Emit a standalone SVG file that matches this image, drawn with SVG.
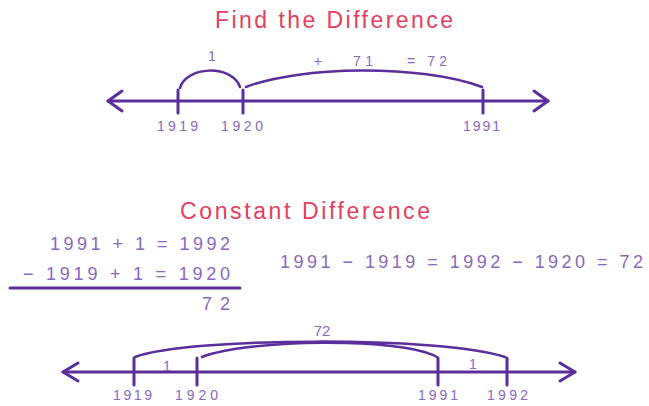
<svg xmlns="http://www.w3.org/2000/svg" width="649" height="406" viewBox="0 0 649 406">
<style>
.title{font-family:"Liberation Sans",Arial,sans-serif;font-size:23px;fill:#e2405e;}
.num{font-family:"Liberation Sans",Arial,sans-serif;fill:#8a67c0;}
.ln{stroke:#5b2e9c;stroke-width:3;fill:none;stroke-linecap:round;stroke-linejoin:round;}
.arc{stroke:#5b2e9c;stroke-width:2.5;fill:none;stroke-linecap:round;}
</style>
<rect width="649" height="406" fill="#ffffff"/>
<g id="title-top"><text class="title" x="215" y="28" textLength="238" lengthAdjust="spacing">Find the Difference</text></g>
<g id="title-bottom"><text class="title" x="180" y="219" textLength="250" lengthAdjust="spacing">Constant Difference</text></g>

<g id="connectors">
  <!-- top number line -->
  <path class="ln" d="M108 101 H548"/>
  <path class="ln" d="M122 91 L108 101 L122 111"/>
  <path class="ln" d="M534 91 L548 101 L534 111"/>
  <path class="ln" d="M178 90 V113 M243 90 V113 M483 90 V113"/>
  <path class="arc" d="M180 88 C186 66, 232 64, 240 87"/>
  <path class="arc" d="M246 87 C300 66, 420 64, 482 87"/>
  <!-- bottom number line -->
  <path class="ln" d="M63 372 H575"/>
  <path class="ln" d="M78 363 L63 372 L78 381"/>
  <path class="ln" d="M560 363 L575 372 L560 381"/>
  <path class="ln" d="M134 358 V385 M197 358 V385 M438 358 V385 M507 358 V385"/>
  <path class="arc" d="M135 357 C190 337, 440 336, 505 357"/>
  <path class="arc" d="M202 357 C250 339, 400 337, 437 357"/>
  <!-- subtraction bar -->
  <path class="ln" d="M10 288 H240" stroke-width="2.5"/>
</g>

<g id="top-labels" class="num" font-size="14">
  <text x="157" y="131" textLength="41" lengthAdjust="spacing">1919</text>
  <text x="221" y="131" textLength="42" lengthAdjust="spacing">1920</text>
  <text x="463" y="131" textLength="37" lengthAdjust="spacing">1991</text>
  <text x="212" y="61" text-anchor="middle">1</text>
  <text x="318" y="66" text-anchor="middle">+</text>
  <text x="353" y="66" textLength="20" lengthAdjust="spacing">71</text>
  <text x="407" y="66" textLength="40" lengthAdjust="spacing">= 72</text>
</g>

<g id="left-equations" class="num" font-size="18">
  <text x="50" y="250" textLength="180" lengthAdjust="spacing">1991 + 1 = 1992</text>
  <text x="23" y="280" textLength="207" lengthAdjust="spacing">− 1919 + 1 = 1920</text>
  <text x="202" y="310" textLength="28" lengthAdjust="spacing">72</text>
</g>

<g id="right-equation" class="num" font-size="18">
  <text x="280" y="268" textLength="363" lengthAdjust="spacing">1991 − 1919 = 1992 − 1920 = 72</text>
</g>

<g id="bottom-labels" class="num" font-size="14">
  <text x="113" y="400" textLength="39" lengthAdjust="spacing">1919</text>
  <text x="175" y="400" textLength="43" lengthAdjust="spacing">1920</text>
  <text x="418" y="400" textLength="40" lengthAdjust="spacing">1991</text>
  <text x="487" y="400" textLength="41" lengthAdjust="spacing">1992</text>
  <text x="322" y="336" text-anchor="middle" font-size="15">72</text>
  <text x="167" y="371" text-anchor="middle">1</text>
  <text x="473" y="369" text-anchor="middle">1</text>
</g>
</svg>
